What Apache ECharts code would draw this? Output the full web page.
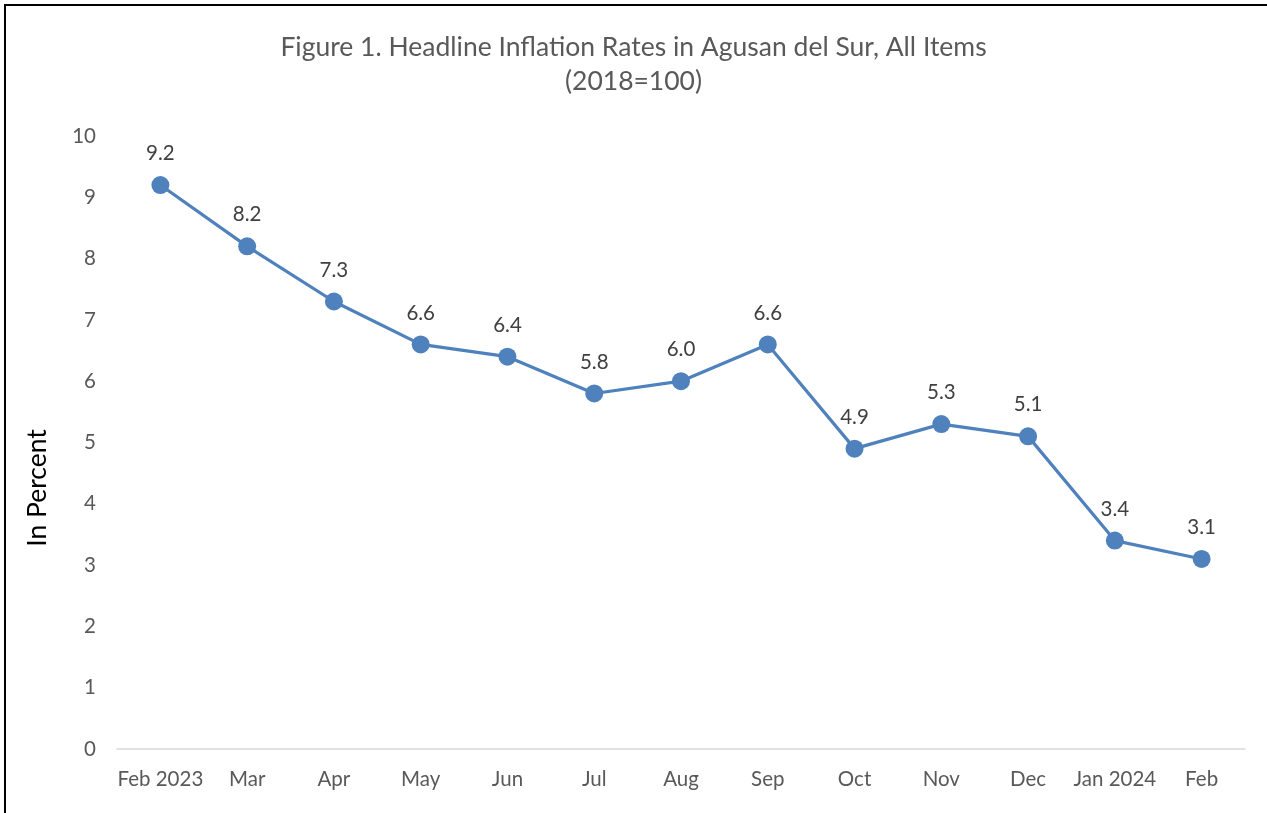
<!DOCTYPE html>
<html><head><meta charset="utf-8">
<script src="https://cdn.jsdelivr.net/npm/echarts@6/dist/echarts.min.js"></script>
<style>
html,body{margin:0;padding:0;background:#fff;overflow:hidden;}
#frame{position:absolute;left:4px;top:4px;width:1300px;height:900px;border:2px solid #000;box-sizing:border-box;}
#chart{position:absolute;left:0;top:0;width:1267px;height:813px;}
</style></head>
<body>
<div id="frame"></div>
<div id="chart"></div>
<script>
const titleLine1 = "Figure 1. Headline Inflation Rates in Agusan del Sur, All Items";
const titleLine2 = "(2018=100)";
const yAxisTitle = "In Percent";
const categories = ["Feb 2023","Mar","Apr","May","Jun","Jul","Aug","Sep","Oct","Nov","Dec","Jan 2024","Feb"];
const inflation = [9.2, 8.2, 7.3, 6.6, 6.4, 5.8, 6.0, 6.6, 4.9, 5.3, 5.1, 3.4, 3.1];
const yTicks = [0, 10, 1];

const FONT = "Lato, 'Open Sans', sans-serif";
const chart = echarts.init(document.getElementById('chart'), null, {renderer:'canvas'});
chart.setOption({
  animation:false,
  backgroundColor:'transparent',
  title:[
    {text:titleLine1, left:'center', top:29,
     textStyle:{fontFamily:FONT, fontSize:26.5, fontWeight:'normal', color:'#595959'}},
    {text:titleLine2, left:'center', top:63,
     textStyle:{fontFamily:FONT, fontSize:26.5, fontWeight:'normal', color:'#595959'}}
  ],
  grid:{left:117, right:22, top:136, bottom:64, containLabel:false},
  xAxis:{
    type:'category', data:categories, boundaryGap:true,
    axisLine:{lineStyle:{color:'#d9d9d9', width:1.5}},
    axisTick:{show:false},
    axisLabel:{fontFamily:FONT, fontSize:20.5, color:'#595959', margin:20, interval:0}
  },
  yAxis:{
    type:'value', min:yTicks[0], max:yTicks[1], interval:yTicks[2],
    splitLine:{show:false}, axisLine:{show:false}, axisTick:{show:false},
    axisLabel:{fontFamily:FONT, fontSize:20.5, color:'#595959', margin:21}
  },
  graphic:[{
    type:'text', x:37, y:488, rotation:Math.PI/2,
    style:{text:yAxisTitle, fontFamily:FONT, fontSize:26.5, fill:'#000', align:'center', verticalAlign:'middle'}
  }],
  series:[{
    type:'line', data:inflation,
    symbol:'circle', symbolSize:18,
    lineStyle:{color:'#4f81bd', width:3.2},
    itemStyle:{color:'#4f81bd'},
    label:{show:true, position:'top', distance:12, fontFamily:FONT, fontSize:20.5, color:'#404040',
      formatter:p=>p.value.toFixed(1)}
  }]
});
</script>
</body></html>
